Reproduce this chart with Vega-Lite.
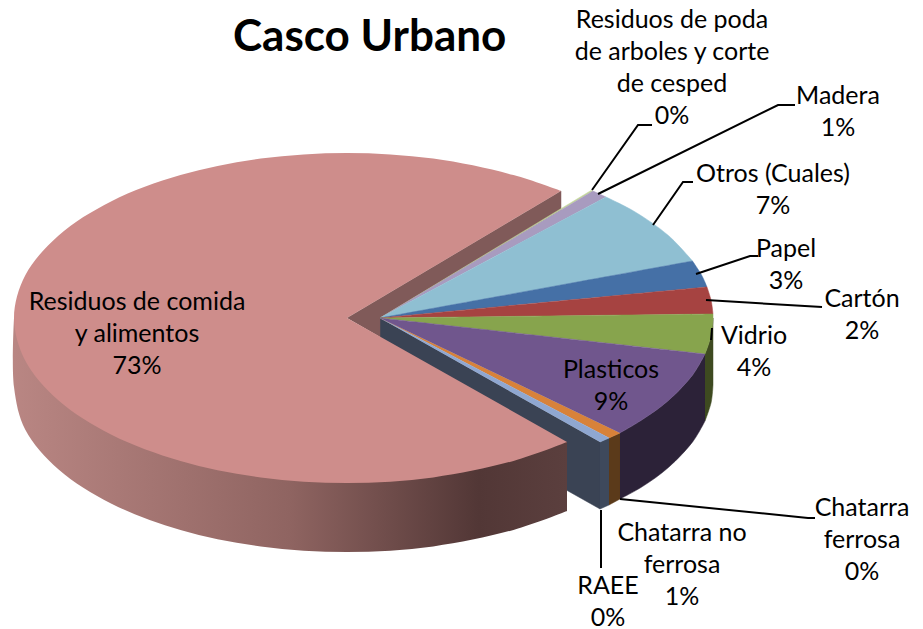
{
"$schema":"https://vega.github.io/schema/vega-lite/v6.json",
"width":923,"height":629,"padding":0,"autosize":{"type":"none"},
"background":"white",
"config":{"view":{"stroke":null}},
"title":{"text":"Casco Urbano","font":"Lato","fontSize":44,"fontWeight":"bold","color":"#000000","anchor":"start","frame":"group","dx":233,"dy":60,"offset":0},
"resolve":{"scale":{"fill":"independent","stroke":"independent"}},
"encoding":{
"x":{"field":"x","type":"quantitative","scale":{"domain":[0,923],"nice":false,"zero":false},"axis":null},
"y":{"field":"y","type":"quantitative","scale":{"domain":[629,0],"nice":false,"zero":false},"axis":null},
"order":{"field":"i","type":"quantitative"}
},
"layer":[
{"mark":{"type":"line","interpolate":"linear","strokeWidth":0.5},
"data":{"values":[
{"part":"Corte frontal","i":1,"x":380,"y":318},{"part":"Corte frontal","i":2,"x":600,"y":442},{"part":"Corte frontal","i":3,"x":600,"y":509},{"part":"Corte frontal","i":4,"x":380,"y":385},
{"part":"Lado RAEE","i":1,"x":600,"y":442},{"part":"Lado RAEE","i":2,"x":609,"y":438},{"part":"Lado RAEE","i":3,"x":609,"y":505},{"part":"Lado RAEE","i":4,"x":600,"y":509},
{"part":"Lado no ferrosa","i":1,"x":609,"y":438},{"part":"Lado no ferrosa","i":2,"x":620,"y":433},{"part":"Lado no ferrosa","i":3,"x":620,"y":499},{"part":"Lado no ferrosa","i":4,"x":609,"y":505},
{"part":"Corte comida","i":1,"x":347,"y":318},{"part":"Corte comida","i":2,"x":561,"y":191},{"part":"Corte comida","i":3,"x":561,"y":210},{"part":"Corte comida","i":4,"x":380,"y":318},{"part":"Corte comida","i":5,"x":380,"y":337},
{"part":"Poda","i":1,"x":380,"y":318},{"part":"Poda","i":2,"x":591,"y":190.5},{"part":"Poda","i":3,"x":593,"y":191},
{"part":"Madera","i":1,"x":380,"y":318},{"part":"Madera","i":2,"x":593,"y":191},{"part":"Madera","i":3,"x":606,"y":197},
{"part":"No ferrosa","i":1,"x":380,"y":318},{"part":"No ferrosa","i":2,"x":620,"y":433},{"part":"No ferrosa","i":3,"x":609,"y":438},
{"part":"RAEE","i":1,"x":380,"y":318},{"part":"RAEE","i":2,"x":609,"y":438},{"part":"RAEE","i":3,"x":600,"y":442}
]},
"encoding":{
"fill":{"field":"part","type":"nominal","legend":null,"scale":{"domain":["Corte frontal","Lado RAEE","Lado no ferrosa","Corte comida","Poda","Madera","No ferrosa","RAEE"],"range":["#3A4354","#3E495C","#5B3A1A","#805A59","#C3D69B","#A89BBF","#D8823A","#8FA7D1"]}},
"stroke":{"field":"part","type":"nominal","legend":null,"scale":{"domain":["Corte frontal","Lado RAEE","Lado no ferrosa","Corte comida","Poda","Madera","No ferrosa","RAEE"],"range":["#3A4354","#3E495C","#5B3A1A","#805A59","#C3D69B","#A89BBF","#D8823A","#8FA7D1"]}}
}},
{"mark":{"type":"line","interpolate":"catmull-rom","strokeWidth":0.5},
"data":{"values":[
{"part":"Lado plasticos","i":1,"x":620,"y":433},{"part":"Lado plasticos","i":2,"x":620,"y":433},{"part":"Lado plasticos","i":3,"x":642.4,"y":419.6},{"part":"Lado plasticos","i":4,"x":668.4,"y":400.5},{"part":"Lado plasticos","i":5,"x":693,"y":374.4},{"part":"Lado plasticos","i":6,"x":705,"y":354},{"part":"Lado plasticos","i":7,"x":705,"y":354},{"part":"Lado plasticos","i":8,"x":705,"y":421},{"part":"Lado plasticos","i":9,"x":705,"y":421},{"part":"Lado plasticos","i":10,"x":693,"y":441.4},{"part":"Lado plasticos","i":11,"x":668.4,"y":467.5},{"part":"Lado plasticos","i":12,"x":642.4,"y":486.6},{"part":"Lado plasticos","i":13,"x":620,"y":499},{"part":"Lado plasticos","i":14,"x":620,"y":499},
{"part":"Lado vidrio","i":1,"x":705,"y":354},{"part":"Lado vidrio","i":2,"x":705,"y":354},{"part":"Lado vidrio","i":3,"x":711.2,"y":335.2},{"part":"Lado vidrio","i":4,"x":713,"y":318},{"part":"Lado vidrio","i":5,"x":713,"y":318},{"part":"Lado vidrio","i":6,"x":713,"y":385},{"part":"Lado vidrio","i":7,"x":713,"y":385},{"part":"Lado vidrio","i":8,"x":711.2,"y":402.2},{"part":"Lado vidrio","i":9,"x":705,"y":421},{"part":"Lado vidrio","i":10,"x":705,"y":421},
{"part":"Otros","i":1,"x":380,"y":318},{"part":"Otros","i":2,"x":606,"y":197},{"part":"Otros","i":3,"x":606,"y":197},{"part":"Otros","i":4,"x":635.1,"y":211.9},{"part":"Otros","i":5,"x":668.4,"y":235.5},{"part":"Otros","i":6,"x":692.5,"y":261},{"part":"Otros","i":7,"x":692.5,"y":261},
{"part":"Papel","i":1,"x":380,"y":318},{"part":"Papel","i":2,"x":692.5,"y":261},{"part":"Papel","i":3,"x":692.5,"y":261},{"part":"Papel","i":4,"x":701.7,"y":275.3},{"part":"Papel","i":5,"x":707,"y":287},{"part":"Papel","i":6,"x":707,"y":287},
{"part":"Carton","i":1,"x":380,"y":318},{"part":"Carton","i":2,"x":707,"y":287},{"part":"Carton","i":3,"x":707,"y":287},{"part":"Carton","i":4,"x":711.2,"y":300.8},{"part":"Carton","i":5,"x":713,"y":314},{"part":"Carton","i":6,"x":713,"y":314},
{"part":"Vidrio","i":1,"x":380,"y":318},{"part":"Vidrio","i":2,"x":713,"y":314},{"part":"Vidrio","i":3,"x":713,"y":314},{"part":"Vidrio","i":4,"x":713,"y":318},{"part":"Vidrio","i":5,"x":711.2,"y":335.2},{"part":"Vidrio","i":6,"x":705,"y":354},{"part":"Vidrio","i":7,"x":705,"y":354},
{"part":"Plasticos","i":1,"x":380,"y":318},{"part":"Plasticos","i":2,"x":705,"y":354},{"part":"Plasticos","i":3,"x":705,"y":354},{"part":"Plasticos","i":4,"x":693,"y":374.4},{"part":"Plasticos","i":5,"x":668.4,"y":400.5},{"part":"Plasticos","i":6,"x":642.4,"y":419.6},{"part":"Plasticos","i":7,"x":620,"y":433},{"part":"Plasticos","i":8,"x":620,"y":433}
]},
"encoding":{
"fill":{"field":"part","type":"nominal","legend":null,"scale":{"domain":["Lado plasticos","Lado vidrio","Otros","Papel","Carton","Vidrio","Plasticos"],"range":["#2C2238","#3E4A20","#8FBFD2","#4570A6","#A64341","#87A44D","#70568D"]}},
"stroke":{"field":"part","type":"nominal","legend":null,"scale":{"domain":["Lado plasticos","Lado vidrio","Otros","Papel","Carton","Vidrio","Plasticos"],"range":["#2C2238","#3E4A20","#8FBFD2","#4570A6","#A64341","#87A44D","#70568D"]}}
}},
{"mark":{"type":"line","interpolate":"catmull-rom","strokeWidth":0,"fill":{"gradient":"linear","x1":0,"y1":0,"x2":1,"y2":0,"stops":[{"offset":0,"color":"#B98683"},{"offset":0.5,"color":"#8F6461"},{"offset":0.84,"color":"#523736"},{"offset":1,"color":"#5B3F3E"}]}},
"data":{"values":[
{"i":1,"x":14,"y":318},{"i":2,"x":14,"y":318},{"i":3,"x":14,"y":387},{"i":4,"x":25.3,"y":429.7},{"i":5,"x":58.6,"y":469.5},{"i":6,"x":111.5,"y":503.7},{"i":7,"x":180.5,"y":529.9},{"i":8,"x":260.8,"y":546.4},{"i":9,"x":347,"y":552},{"i":10,"x":433.2,"y":546.4},{"i":11,"x":513.5,"y":529.9},{"i":12,"x":567,"y":511},{"i":13,"x":567,"y":511},{"i":14,"x":567,"y":442},{"i":15,"x":567,"y":442}
]}},
{"mark":{"type":"line","interpolate":"catmull-rom","strokeWidth":0,"fill":"#CE8D8B"},
"data":{"values":[
{"i":1,"x":347,"y":318},{"i":2,"x":561,"y":191},{"i":3,"x":561,"y":191},{"i":4,"x":513.5,"y":175.1},{"i":5,"x":433.2,"y":158.6},{"i":6,"x":347,"y":153},{"i":7,"x":260.8,"y":158.6},{"i":8,"x":180.5,"y":175.1},{"i":9,"x":111.5,"y":201.3},{"i":10,"x":58.6,"y":235.5},{"i":11,"x":25.3,"y":275.3},{"i":12,"x":14,"y":318},{"i":13,"x":25.3,"y":360.7},{"i":14,"x":58.6,"y":400.5},{"i":15,"x":111.5,"y":434.7},{"i":16,"x":180.5,"y":460.9},{"i":17,"x":260.8,"y":477.4},{"i":18,"x":347,"y":483},{"i":19,"x":433.2,"y":477.4},{"i":20,"x":513.5,"y":460.9},{"i":21,"x":567,"y":442},{"i":22,"x":567,"y":442}
]}},
{"mark":{"type":"line","color":"#000000","strokeWidth":2},
"data":{"values":[
{"s":"Poda","i":1,"x":592,"y":190},{"s":"Poda","i":2,"x":638,"y":125},{"s":"Poda","i":3,"x":652,"y":125},
{"s":"Madera","i":1,"x":598,"y":194},{"s":"Madera","i":2,"x":778,"y":105},{"s":"Madera","i":3,"x":795,"y":105},
{"s":"Otros","i":1,"x":653,"y":225},{"s":"Otros","i":2,"x":683,"y":182},{"s":"Otros","i":3,"x":693,"y":182},
{"s":"Papel","i":1,"x":696,"y":274},{"s":"Papel","i":2,"x":750,"y":256},{"s":"Papel","i":3,"x":758,"y":256},
{"s":"Carton","i":1,"x":706,"y":300},{"s":"Carton","i":2,"x":822,"y":307},
{"s":"Vidrio","i":1,"x":712,"y":328},{"s":"Vidrio","i":2,"x":711,"y":340},
{"s":"Ferrosa","i":1,"x":620,"y":499},{"s":"Ferrosa","i":2,"x":808,"y":518},{"s":"Ferrosa","i":3,"x":815,"y":518},
{"s":"RAEE","i":1,"x":601,"y":510},{"s":"RAEE","i":2,"x":601,"y":568}
]},
"encoding":{"detail":{"field":"s","type":"nominal"}}},
{"mark":{"type":"text","font":"Lato","fontSize":25,"color":"#000000","align":"center","baseline":"middle","lineBreak":"\n","lineHeight":32},
"data":{"values":[
{"name":"Residuos de comida y alimentos","pct":73,"label":"Residuos de comida\ny alimentos\n73%","x":137,"y":302},
{"name":"Residuos de poda","pct":0,"label":"Residuos de poda\nde arboles y corte\nde cesped\n0%","x":672,"y":20},
{"name":"Madera","pct":1,"label":"Madera\n1%","x":838,"y":96},
{"name":"Otros (Cuales)","pct":7,"label":"Otros (Cuales)\n7%","x":773,"y":174},
{"name":"Papel","pct":3,"label":"Papel\n3%","x":786,"y":249},
{"name":"Cartón","pct":2,"label":"Cartón\n2%","x":862,"y":299},
{"name":"Vidrio","pct":4,"label":"Vidrio\n4%","x":754,"y":336},
{"name":"Plasticos","pct":9,"label":"Plasticos\n9%","x":611,"y":370},
{"name":"Chatarra ferrosa","pct":0,"label":"Chatarra\nferrosa\n0%","x":862,"y":508},
{"name":"Chatarra no ferrosa","pct":1,"label":"Chatarra no\nferrosa\n1%","x":682,"y":533},
{"name":"RAEE","pct":0,"label":"RAEE\n0%","x":608,"y":586}
]},
"encoding":{"text":{"field":"label","type":"nominal"}}}
]
}
